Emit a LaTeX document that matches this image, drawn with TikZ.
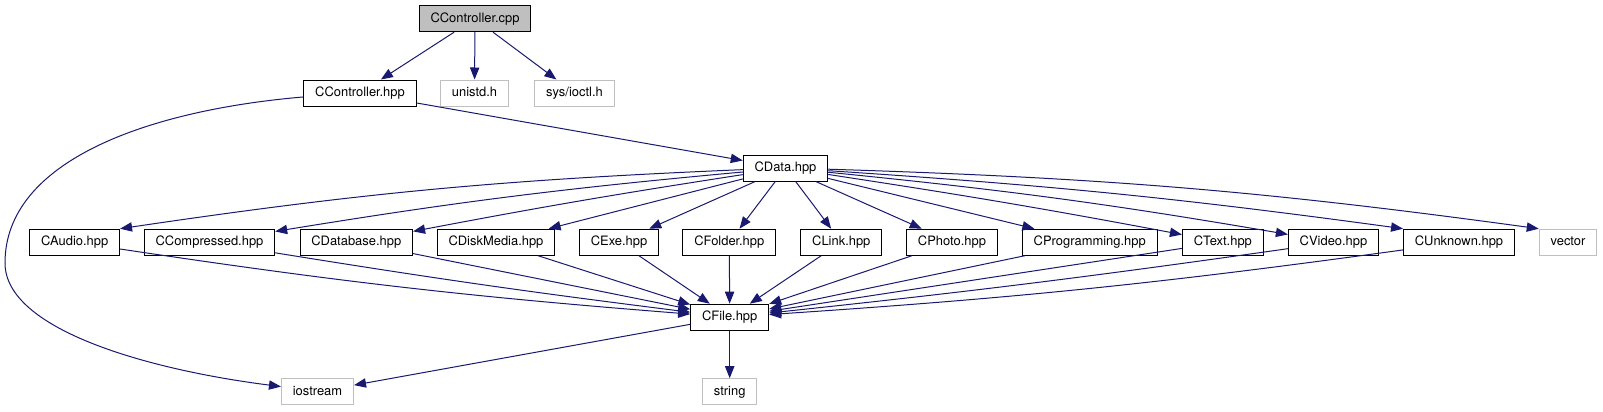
\documentclass[tikz,border=0pt]{standalone}
\usepackage{fontspec}
\setmainfont{TeX Gyre Heros}
\usetikzlibrary{arrows.meta}
\definecolor{edgeblue}{HTML}{191970}
\definecolor{extgray}{HTML}{BFBFBF}

\begin{document}
\begin{tikzpicture}[
    x=0.75pt, y=-0.75pt,
    box/.style={draw=black, line width=0.75pt, fill=white, minimum height=19.5pt,
                inner xsep=8.5pt, inner ysep=0pt, text height=7pt, text depth=2pt,
                font=\fontsize{9.7}{11}\selectfont},
    ext/.style={box, draw=extgray},
    root/.style={box, fill=extgray},
    arr/.style={-{Triangle[length=9pt,width=7pt]}, draw=edgeblue, line width=0.75pt},
]
  \useasboundingbox (0,0) rectangle (1603,411);

  \node[root] (cpp) at (475,18.7) {CController.cpp};
  \node[box] (ctrlhpp) at (360,93) {CController.hpp};
  \node[ext] (unistd) at (474.5,93) {unistd.h};
  \node[ext] (ioctl) at (574.5,93) {sys/ioctl.h};
  \node[box] (cdata) at (785.5,168) {CData.hpp};

  \node[box] (caudio) at (74.7,242.2) {CAudio.hpp};
  \node[box] (ccompressed) at (209.5,242.2) {CCompressed.hpp};
  \node[box] (cdatabase) at (356.3,242.2) {CDatabase.hpp};
  \node[box] (cdiskmedia) at (496,242.2) {CDiskMedia.hpp};
  \node[box] (cexe) at (619,242.2) {CExe.hpp};
  \node[box] (cfolder) at (729.3,242.2) {CFolder.hpp};
  \node[box] (clink) at (841.3,242.2) {CLink.hpp};
  \node[box] (cphoto) at (952,242.2) {CPhoto.hpp};
  \node[box] (cprog) at (1089.7,242.2) {CProgramming.hpp};
  \node[box] (ctext) at (1222.8,242.2) {CText.hpp};
  \node[box] (cvideo) at (1333.5,242.2) {CVideo.hpp};
  \node[box] (cunknown) at (1459,242.2) {CUnknown.hpp};
  \node[ext] (vec) at (1568,242.2) {vector};

  \node[box] (cfile) at (729.7,317.2) {CFile.hpp};
  \node[ext] (iostream) at (317.5,391.7) {iostream};
  \node[ext] (str) at (729.7,391.7) {string};
  \coordinate (loopl) at (5,263);

  \draw[arr] (cpp) -- (ctrlhpp);
  \draw[arr] (cpp) -- (unistd);
  \draw[arr] (cpp) -- (ioctl);
  \draw[arr] (ctrlhpp) -- (cdata);
  \draw[arr] (ctrlhpp.184) .. controls (150,110) and (5,160) .. (loopl)
    .. controls (5,330) and (150,370) .. (iostream.172);

  \draw[arr] (cdata) to[bend right=3] (caudio.north east);
  \draw[arr] (cdata) to[bend right=2] (ccompressed);
  \draw[arr] (cdata) to[bend right=1] (cdatabase);
  \draw[arr] (cdata) -- (cdiskmedia);
  \draw[arr] (cdata) -- (cexe);
  \draw[arr] (cdata) -- (cfolder);
  \draw[arr] (cdata) -- (clink);
  \draw[arr] (cdata) -- (cphoto);
  \draw[arr] (cdata) -- (cprog);
  \draw[arr] (cdata) to[bend left=1] (ctext);
  \draw[arr] (cdata) to[bend left=2] (cvideo);
  \draw[arr] (cdata) to[bend left=2] (cunknown.north west);
  \draw[arr] (cdata) to[bend left=3] (vec.north west);

  \draw[arr] (caudio) to[bend right=2] (cfile);
  \draw[arr] (ccompressed) to[bend right=1] (cfile);
  \draw[arr] (cdatabase) -- (cfile);
  \draw[arr] (cdiskmedia) -- (cfile);
  \draw[arr] (cexe) -- (cfile);
  \draw[arr] (cfolder) -- (cfile);
  \draw[arr] (clink) -- (cfile);
  \draw[arr] (cphoto) -- (cfile);
  \draw[arr] (cprog) -- (cfile);
  \draw[arr] (ctext) -- (cfile);
  \draw[arr] (cvideo) to[bend left=1] (cfile);
  \draw[arr] (cunknown) to[bend left=2] (cfile);

  \draw[arr] (cfile) -- (iostream);
  \draw[arr] (cfile) -- (str);
\end{tikzpicture}
\end{document}
